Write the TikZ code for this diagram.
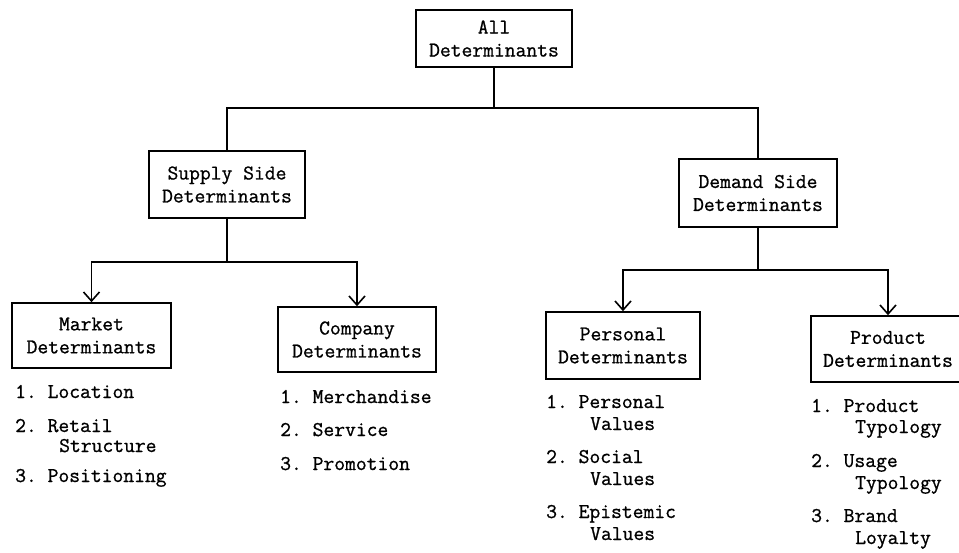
\documentclass[tikz,border=0pt]{standalone}
\usepackage{fontspec}
\setmonofont{Latin Modern Mono}[FakeBold=0.9]
\usetikzlibrary{arrows.meta}
\tikzset{
  typed/.style={font=\ttfamily\fontsize{21}{23}\selectfont},
  box/.style={typed, draw, line width=1.6pt, align=center, inner sep=0pt},
  link/.style={line width=1.6pt},
  feed/.style={link, -{Straight Barb[length=9pt,width=16pt,line width=1.6pt]}},
  entry/.style={typed, anchor=base west, inner sep=0pt}
}
\begin{document}
\begin{tikzpicture}[x=1pt,y=-1pt]
\useasboundingbox (0,0) rectangle (959,552);
\clip (0,0) rectangle (959,552);

% boxes
\node[box, minimum width=156pt, minimum height=57pt] (all) at (494,38.5) {All\\Determinants};
\node[box, minimum width=156pt, minimum height=67pt] (supply) at (227,184.5) {Supply Side\\Determinants};
\node[box, minimum width=158pt, minimum height=68pt] (demand) at (758,193) {Demand Side\\Determinants};
\node[box, minimum width=159pt, minimum height=65pt] (market) at (91.5,335.5) {Market\\Determinants};
\node[box, minimum width=158pt, minimum height=65pt] (company) at (357,339.5) {Company\\Determinants};
\node[box, minimum width=154pt, minimum height=67pt] (personal) at (623,345.5) {Personal\\Determinants};
\node[box, minimum width=154pt, minimum height=66pt] (product) at (888,349) {Product\\Determinants};

% junctions of the tree
\coordinate (j0) at (all.south |- 0,108);
\coordinate (j1) at (supply.south |- 0,262);
\coordinate (j2) at (demand.south |- 0,270);

\draw[link] (all.south) -- (j0);
\draw[link] (j0) -| (supply.north);
\draw[link] (j0) -| (demand.north);

\draw[link] (supply.south) -- (j1);
\draw[feed] (j1) -| (market.north);
\draw[feed] (j1) -| (company.north);

\draw[link] (demand.south) -- (j2);
\draw[feed] (j2) -| (personal.north);
\draw[feed] (j2) -| (product.north);

% market determinants
\node[entry] (m1)  at (15,398) {1. Location};
\node[entry] (m2)  at (15,432) {2. Retail};
\node[entry] (m2b) at (59,452) {Structure};
\node[entry] (m3)  at (15,482) {3. Positioning};

% company determinants
\node[entry] (c1) at (280,403) {1. Merchandise};
\node[entry] (c2) at (280,436) {2. Service};
\node[entry] (c3) at (280,470) {3. Promotion};

% personal determinants
\node[entry] (p1)  at (546,408) {1. Personal};
\node[entry] (p1b) at (590,430) {Values};
\node[entry] (p2)  at (546,463) {2. Social};
\node[entry] (p2b) at (590,485) {Values};
\node[entry] (p3)  at (546,518) {3. Epistemic};
\node[entry] (p3b) at (590,540) {Values};

% product determinants
\node[entry] (d1)  at (811,412) {1. Product};
\node[entry] (d1b) at (855,433) {Typology};
\node[entry] (d2)  at (811,467) {2. Usage};
\node[entry] (d2b) at (855,489) {Typology};
\node[entry] (d3)  at (811,522) {3. Brand};
\node[entry] (d3b) at (855,544) {Loyalty};
\end{tikzpicture}
\end{document}
